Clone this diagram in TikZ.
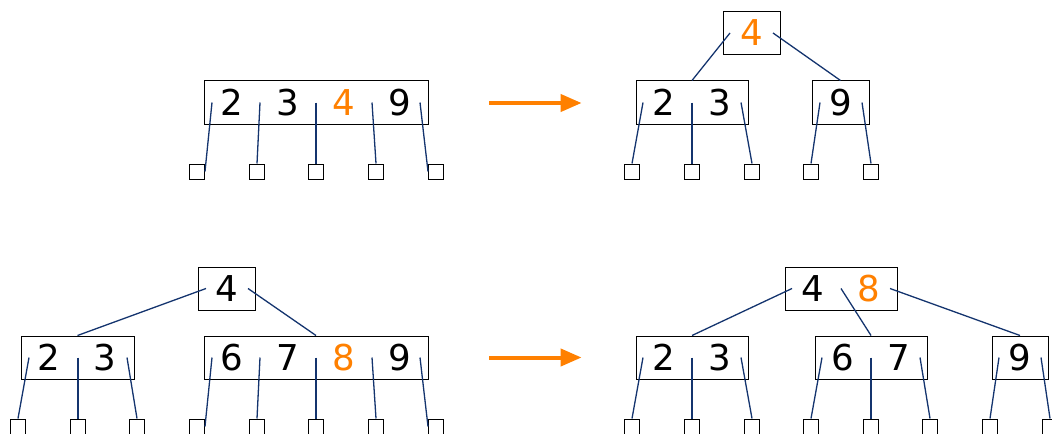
\documentclass[tikz,border=0pt]{standalone}
\usepackage{fontspec}
\setmainfont{DejaVu Sans}
\usetikzlibrary{arrows.meta}
\definecolor{linkblue}{RGB}{20,52,110}
\definecolor{newkey}{RGB}{255,128,0}
\tikzset{
	bnode/.style={draw, line width=0.5pt, minimum height=21.5pt, inner sep=0pt},
	key/.style={font=\fontsize{17.8}{20}\selectfont, inner sep=0pt},
	leaf/.style={draw, line width=0.5pt, minimum size=7.5pt, inner sep=0pt},
	link/.style={draw=linkblue, line width=0.65pt},
	split/.style={draw=newkey, line width=2pt, -{Triangle[length=10.5pt,width=8.5pt]}}
}

\begin{document}
\begin{tikzpicture}[x=0.5pt, y=-0.5pt]
			%%%%% START %%%%%
			\useasboundingbox (0,0) rectangle (1052,433);
			\clip (0,0) rectangle (1052,433);
			
			% top left: full node
			\node[bnode, minimum width=112pt] (a) at (316,102.5) {};
			\node[key] (a1) at (232,102.5) {2};
			\node[key] (a2) at (288,102.5) {3};
			\node[key, text=newkey] (a3) at (344,102.5) {4};
			\node[key] (a4) at (400,102.5) {9};
			\coordinate (a-p0) at (212,102.5);
			\coordinate (a-p1) at (260,102.5);
			\coordinate (a-p2) at (316,102.5);
			\coordinate (a-p3) at (372,102.5);
			\coordinate (a-p4) at (420,102.5);
			\node[leaf] (a-l0) at (197,171.5) {};
			\node[leaf] (a-l1) at (257,171.5) {};
			\node[leaf] (a-l2) at (316,171.5) {};
			\node[leaf] (a-l3) at (376,171.5) {};
			\node[leaf] (a-l4) at (436,171.5) {};
			\draw[link] (a-p0) -- (a-l0.east);
			\draw[link] (a-p1) -- (a-l1.north);
			\draw[link] (a-p2) -- (a-l2.north);
			\draw[link] (a-p3) -- (a-l3.north);
			\draw[link] (a-p4) -- (a-l4.west);
			
			\node[minimum size=0pt, inner sep=0pt] (arr1a) at (489,103) {};
			\node[minimum size=0pt, inner sep=0pt] (arr1b) at (582,103) {};
			\draw[split] (arr1a) -- (arr1b);
			
			% top right: after split
			\node[bnode, minimum width=28.5pt] (b) at (752,33) {};
			\node[key, text=newkey] (b1) at (752,33) {4};
			\coordinate (b-p0) at (730,33);
			\coordinate (b-p1) at (773,33);
			
			\node[bnode, minimum width=56pt] (bl) at (692,102.5) {};
			\node[key] (bl1) at (664,102.5) {2};
			\node[key] (bl2) at (720,102.5) {3};
			\coordinate (bl-p0) at (643,102.5);
			\coordinate (bl-p1) at (692,102.5);
			\coordinate (bl-p2) at (741,102.5);
			
			\node[bnode, minimum width=28.5pt] (br) at (840.5,102.5) {};
			\node[key] (br1) at (840.5,102.5) {9};
			\coordinate (br-p0) at (820,102.5);
			\coordinate (br-p1) at (862,102.5);
			
			\draw[link] (b-p0) -- (bl.north);
			\draw[link] (b-p1) -- (br.north);
			
			\node[leaf] (b-l0) at (632,171.5) {};
			\node[leaf] (b-l1) at (692,171.5) {};
			\node[leaf] (b-l2) at (752,171.5) {};
			\node[leaf] (b-l3) at (811,171.5) {};
			\node[leaf] (b-l4) at (871,171.5) {};
			\draw[link] (bl-p0) -- (b-l0.north);
			\draw[link] (bl-p1) -- (b-l1.north);
			\draw[link] (bl-p2) -- (b-l2.north);
			\draw[link] (br-p0) -- (b-l3.north);
			\draw[link] (br-p1) -- (b-l4.north);
			
			% bottom left: full child
			\node[bnode, minimum width=28.5pt] (c) at (227,288.5) {};
			\node[key] (c1) at (227,288.5) {4};
			\coordinate (c-p0) at (206,288.5);
			\coordinate (c-p1) at (248,288.5);
			
			\node[bnode, minimum width=56.5pt] (cl) at (77.5,357.5) {};
			\node[key] (cl1) at (49,357.5) {2};
			\node[key] (cl2) at (105,357.5) {3};
			\coordinate (cl-p0) at (29,357.5);
			\coordinate (cl-p1) at (78,357.5);
			\coordinate (cl-p2) at (127,357.5);
			
			\node[bnode, minimum width=112pt] (cr) at (316,357.5) {};
			\node[key] (cr1) at (232,357.5) {6};
			\node[key] (cr2) at (288,357.5) {7};
			\node[key, text=newkey] (cr3) at (344,357.5) {8};
			\node[key] (cr4) at (400,357.5) {9};
			\coordinate (cr-p0) at (212,357.5);
			\coordinate (cr-p1) at (260,357.5);
			\coordinate (cr-p2) at (316,357.5);
			\coordinate (cr-p3) at (372,357.5);
			\coordinate (cr-p4) at (420,357.5);
			
			\draw[link] (c-p0) -- (cl.north);
			\draw[link] (c-p1) -- (cr.north);
			
			\node[leaf] (c-l0) at (18,426.5) {};
			\node[leaf] (c-l1) at (78,426.5) {};
			\node[leaf] (c-l2) at (137,426.5) {};
			\node[leaf] (c-l3) at (197,426.5) {};
			\node[leaf] (c-l4) at (257,426.5) {};
			\node[leaf] (c-l5) at (316,426.5) {};
			\node[leaf] (c-l6) at (376,426.5) {};
			\node[leaf] (c-l7) at (436,426.5) {};
			\draw[link] (cl-p0) -- (c-l0.north);
			\draw[link] (cl-p1) -- (c-l1.north);
			\draw[link] (cl-p2) -- (c-l2.north);
			\draw[link] (cr-p0) -- (c-l3.east);
			\draw[link] (cr-p1) -- (c-l4.north);
			\draw[link] (cr-p2) -- (c-l5.north);
			\draw[link] (cr-p3) -- (c-l6.north);
			\draw[link] (cr-p4) -- (c-l7.west);
			
			\node[minimum size=0pt, inner sep=0pt] (arr2a) at (489,357.5) {};
			\node[minimum size=0pt, inner sep=0pt] (arr2b) at (582,357.5) {};
			\draw[split] (arr2a) -- (arr2b);
			
			% bottom right: after split
			\node[bnode, minimum width=56pt] (d) at (841,288.5) {};
			\node[key] (d1) at (813,288.5) {4};
			\node[key, text=newkey] (d2) at (869,288.5) {8};
			\coordinate (d-p0) at (792,288.5);
			\coordinate (d-p1) at (841,288.5);
			\coordinate (d-p2) at (890,288.5);
			
			\node[bnode, minimum width=56pt] (dl) at (692,357.5) {};
			\node[key] (dl1) at (664,357.5) {2};
			\node[key] (dl2) at (720,357.5) {3};
			\coordinate (dl-p0) at (643,357.5);
			\coordinate (dl-p1) at (692,357.5);
			\coordinate (dl-p2) at (741,357.5);
			
			\node[bnode, minimum width=56pt] (dm) at (871,357.5) {};
			\node[key] (dm1) at (843,357.5) {6};
			\node[key] (dm2) at (899,357.5) {7};
			\coordinate (dm-p0) at (822,357.5);
			\coordinate (dm-p1) at (871,357.5);
			\coordinate (dm-p2) at (920,357.5);
			
			\node[bnode, minimum width=28pt] (dr) at (1020,357.5) {};
			\node[key] (dr1) at (1020,357.5) {9};
			\coordinate (dr-p0) at (999,357.5);
			\coordinate (dr-p1) at (1041,357.5);
			
			\draw[link] (d-p0) -- (dl.north);
			\draw[link] (d-p1) -- (dm.north);
			\draw[link] (d-p2) -- (dr.north);
			
			\node[leaf] (d-l0) at (632,426.5) {};
			\node[leaf] (d-l1) at (692,426.5) {};
			\node[leaf] (d-l2) at (752,426.5) {};
			\node[leaf] (d-l3) at (811,426.5) {};
			\node[leaf] (d-l4) at (871,426.5) {};
			\node[leaf] (d-l5) at (930,426.5) {};
			\node[leaf] (d-l6) at (990,426.5) {};
			\node[leaf] (d-l7) at (1050,426.5) {};
			\draw[link] (dl-p0) -- (d-l0.north);
			\draw[link] (dl-p1) -- (d-l1.north);
			\draw[link] (dl-p2) -- (d-l2.north);
			\draw[link] (dm-p0) -- (d-l3.north);
			\draw[link] (dm-p1) -- (d-l4.north);
			\draw[link] (dm-p2) -- (d-l5.north);
			\draw[link] (dr-p0) -- (d-l6.north);
			\draw[link] (dr-p1) -- (d-l7.north);
			
			%%%%% END %%%%%
\end{tikzpicture}
\end{document}
